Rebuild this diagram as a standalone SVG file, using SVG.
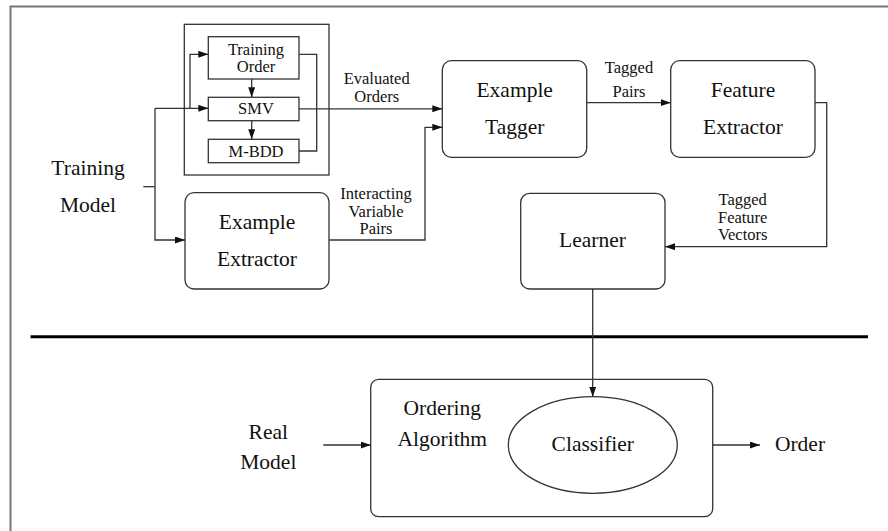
<svg xmlns="http://www.w3.org/2000/svg" width="888" height="531" viewBox="0 0 888 531">
<defs>
<marker id="ah" markerUnits="userSpaceOnUse" markerWidth="11" markerHeight="8" refX="10" refY="3.5" orient="auto">
<path d="M0,0 L10,3.5 L0,7 z" fill="#111"/>
</marker>
</defs>
<rect width="888" height="531" fill="#fff"/>
<g id="frame">
<path d="M10.5,531 V6.5 H888" fill="none" stroke="#777" stroke-width="2"/>
<line x1="30.5" y1="336.7" x2="868" y2="336.7" stroke="#000" stroke-width="3"/>
</g>
<g id="shapes" fill="none" stroke="#333" stroke-width="1.3">
<rect id="mgroup" x="184.3" y="24.3" width="144.7" height="150.7"/>
<rect id="training-order-box" x="208.3" y="36.7" width="90.7" height="42.3"/>
<rect id="smv-box" x="208.3" y="97.3" width="90.7" height="23.4"/>
<rect id="mbdd-box" x="208.3" y="139.3" width="90.7" height="23.4"/>
<rect id="example-extractor-box" x="185" y="192.7" width="144" height="96.3" rx="9"/>
<rect id="example-tagger-box" x="442.3" y="60.7" width="144.4" height="96.6" rx="9"/>
<rect id="feature-extractor-box" x="670.7" y="60.7" width="144.3" height="96.6" rx="9"/>
<rect id="learner-box" x="520.7" y="193.3" width="144.3" height="95.7" rx="9"/>
<rect id="ordering-algorithm-box" x="370.7" y="379.3" width="342" height="137.4" rx="8"/>
<ellipse id="classifier-shape" cx="592.8" cy="445" rx="84.5" ry="48.3"/>
</g>
<g id="connectors" fill="none" stroke="#333" stroke-width="1.3">
<path d="M143.3,186.7 H155"/>
<path d="M155,108.3 V240 H185" marker-end="url(#ah)"/>
<path d="M155,108.3 H208.3" marker-end="url(#ah)"/>
<path d="M190,108.3 V54.3 H208.3" marker-end="url(#ah)"/>
<path d="M251.7,79 V97.3" marker-end="url(#ah)"/>
<path d="M251.7,120.7 V139.3" marker-end="url(#ah)"/>
<path d="M299,54.3 H316.7 V151 H299"/>
<path d="M299,108.8 H442.3" marker-end="url(#ah)"/>
<path d="M329,240 H425 V127.3 H442.3" marker-end="url(#ah)"/>
<path d="M586.7,102.7 H670.7" marker-end="url(#ah)"/>
<path d="M815,102.7 H826.7 V246.7 H665" marker-end="url(#ah)"/>
<path d="M592.7,289 V396.7" marker-end="url(#ah)"/>
<path d="M323.3,445 H370.7" marker-end="url(#ah)"/>
<path d="M712.7,445 H760" marker-end="url(#ah)"/>
</g>
<g id="big-texts" font-size="21.5" text-anchor="middle" fill="#111">
<text font-family="Times New Roman, serif" x="88" y="175">Training</text>
<text font-family="Times New Roman, serif" x="88" y="211.5">Model</text>
<text font-family="Times New Roman, serif" x="257" y="229">Example</text>
<text font-family="Times New Roman, serif" x="257" y="266">Extractor</text>
<text font-family="Times New Roman, serif" x="514.7" y="97.3">Example</text>
<text font-family="Times New Roman, serif" x="514.7" y="134">Tagger</text>
<text font-family="Times New Roman, serif" x="743" y="97.3">Feature</text>
<text font-family="Times New Roman, serif" x="743" y="134">Extractor</text>
<text font-family="Times New Roman, serif" x="592.5" y="246.7">Learner</text>
<text font-family="Times New Roman, serif" x="442.3" y="415">Ordering</text>
<text font-family="Times New Roman, serif" x="442.3" y="446">Algorithm</text>
<text font-family="Times New Roman, serif" x="592.8" y="450.7">Classifier</text>
<text font-family="Times New Roman, serif" x="268.3" y="439">Real</text>
<text font-family="Times New Roman, serif" x="268.3" y="469.3">Model</text>
<text font-family="Times New Roman, serif" x="800" y="450.5">Order</text>
</g>
<g id="small-texts" font-size="16.5" text-anchor="middle" fill="#111">
<text font-family="Times New Roman, serif" x="256" y="55">Training</text>
<text font-family="Times New Roman, serif" x="256" y="72.3">Order</text>
<text font-family="Times New Roman, serif" x="256" y="114.3">SMV</text>
<text font-family="Times New Roman, serif" x="256" y="156.7">M-BDD</text>
<text font-family="Times New Roman, serif" x="376.7" y="84.3">Evaluated</text>
<text font-family="Times New Roman, serif" x="376.7" y="101.7">Orders</text>
<text font-family="Times New Roman, serif" x="376" y="199.3">Interacting</text>
<text font-family="Times New Roman, serif" x="376" y="216.5">Variable</text>
<text font-family="Times New Roman, serif" x="376" y="234">Pairs</text>
<text font-family="Times New Roman, serif" x="629" y="73.3">Tagged</text>
<text font-family="Times New Roman, serif" x="629" y="96.7">Pairs</text>
<text font-family="Times New Roman, serif" x="742.7" y="205">Tagged</text>
<text font-family="Times New Roman, serif" x="742.7" y="222.7">Feature</text>
<text font-family="Times New Roman, serif" x="742.7" y="240">Vectors</text>
</g>
</svg>
